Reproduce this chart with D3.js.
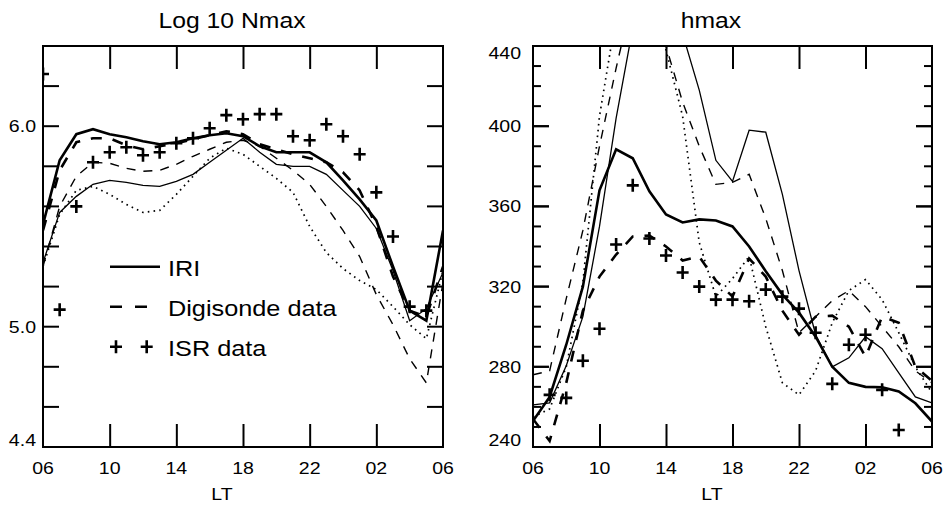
<!DOCTYPE html>
<html><head><meta charset="utf-8">
<script src="https://cdn.jsdelivr.net/npm/d3@7"></script>
<style>body{margin:0;background:#fff}svg{display:block}</style>
</head><body>
<svg id="chart" width="945" height="507"></svg>
<script>
// ---------- data ----------
const hours = [6,7,8,9,10,11,12,13,14,15,16,17,18,19,20,21,22,23,24,25,26,27,28,29,30];
const xTickValues = [6,10,14,18,22,26,30];
const xTickLabels = ["06","10","14","18","22","02","06"];

// Left panel: Log10 Nmax
const nmaxIRI      = [5.51,5.83,5.96,5.985,5.96,5.945,5.925,5.91,5.92,5.94,5.955,5.965,5.95,5.9,5.87,5.87,5.87,5.82,5.73,5.635,5.53,5.3,5.08,5.03,5.48];
const nmaxIRI2     = [5.32,5.57,5.65,5.71,5.73,5.72,5.705,5.70,5.725,5.76,5.82,5.88,5.94,5.87,5.81,5.80,5.80,5.76,5.68,5.6,5.49,5.28,5.03,5.09,5.27];
const nmaxDigi     = [5.48,5.78,5.92,5.94,5.94,5.905,5.885,5.9,5.915,5.935,5.955,5.975,5.96,5.91,5.885,5.86,5.84,5.82,5.77,5.68,5.5,5.25,5.08,5.05,5.3];
const nmaxDigi2    = [5.3,5.6,5.75,5.82,5.815,5.79,5.775,5.78,5.81,5.85,5.885,5.92,5.93,5.9,5.84,5.78,5.71,5.6,5.48,5.35,5.16,5.01,4.84,4.72,5.22];
const nmaxDotted   = [5.3,5.56,5.68,5.70,5.66,5.61,5.57,5.58,5.66,5.75,5.84,5.89,5.86,5.8,5.74,5.67,5.5,5.37,5.29,5.23,5.185,5.1,5.01,4.94,5.28];
const nmaxISR      = [6.26,5.085,5.60,5.82,5.87,5.895,5.855,5.87,5.915,5.94,5.99,6.055,6.035,6.06,6.06,5.95,5.93,6.01,5.95,5.86,5.67,5.45,5.10,5.08,null];
const nmaxYTicks   = [4.6,4.8,5.0,5.2,5.4,5.6,5.8,6.0,6.2];
const nmaxYLabels  = [4.4,5.0,6.0];
const nmaxYLabelText = ["4.4","5.0","6.0"];

// Right panel: hmax
const hmaxIRI      = [253,265,291,320,368,388.5,384,367.5,356,352,353.5,353,350,340,327.7,316,307,295,280,272,270,269.8,267.7,261.8,252.7];
const hmaxIRI2     = [261,262,280.5,305,350,404,449,470,465,446,418,383,372.5,398,397,366,328,296,280,284.5,295,289,277,265,262];
const hmaxDigi     = [254,243,272,308,325,336,345,345.5,340,333,335,323,315,334,325,308,296,305,305.5,300,285,305,302,280,273];
const hmaxDigi2    = [276,278,314,348,390,429,465,475,440,412,390,371,372,376,354,328,297,305,313,318,310,300,290,278,272];
const hmaxDotted   = [255,259,280,322,405,455,470,465,438,405,342,315,324,335,300,272,266,278,302,318,323.5,313.5,297,280,267];
const hmaxISR      = [null,266,264.5,283,299,341,370.5,344,335.5,327,320,313.5,313.5,312.7,318.5,315,309,297,271.5,291,296,268.5,248.5,null,null];
const hmaxYTicks   = [250,260,270,280,290,300,310,320,330,340,350,360,370,380,390,400,410,420,430];
const hmaxYLabels  = [240,280,320,360,400,440];

const legendLabels = ["IRI","Digisonde data","ISR data"];

// ---------- drawing ----------
const svg = d3.select("#chart");
const SX = 1.15; // horizontal font stretch of the original
const FONT = "'Liberation Sans', Arial, Helvetica, sans-serif";

function txt(g, x, y, s, size, anchor) {
  g.append("text")
    .attr("transform", `translate(${x},${y}) scale(${SX},1)`)
    .attr("text-anchor", anchor || "middle")
    .attr("font-family", FONT).attr("font-size", size).attr("fill", "#000")
    .text(s);
}

const styles = {
  thick:   {w: 2.6, dash: null},
  thin:    {w: 1.3, dash: null},
  dthick:  {w: 2.6, dash: "11,11"},
  dthin:   {w: 1.4, dash: "9,8"},
  dot:     {w: 1.7, dash: "1.6,4.2"}
};

function panel(cfg) {
  const x = d3.scaleLinear().domain([6,30]).range([cfg.x0, cfg.x1]);
  const y = d3.scaleLinear().domain(cfg.yDomain).range([447, 46]);
  const g = svg.append("g");
  const clipId = "clip" + cfg.id;
  svg.append("defs").append("clipPath").attr("id", clipId)
    .append("rect").attr("x", cfg.x0).attr("y", 46).attr("width", cfg.x1 - cfg.x0).attr("height", 401);

  const plot = g.append("g").attr("clip-path", `url(#${clipId})`);
  const line = d3.line().defined(d => d != null).x((d,i) => x(hours[i])).y(d => y(d));
  cfg.series.forEach(s => {
    const st = styles[s.style];
    plot.append("path").attr("d", line(s.values))
      .attr("fill","none").attr("stroke","#000").attr("stroke-width", st.w)
      .attr("stroke-dasharray", st.dash).attr("stroke-linejoin","miter");
  });
  cfg.isr.forEach((v,i) => {
    if (v == null) return;
    plot.append("path").attr("d","M-6,0H6M0,-6.5V6.5")
      .attr("transform", `translate(${x(hours[i])},${y(v)})`)
      .attr("stroke","#000").attr("stroke-width",2.6).attr("fill","none");
  });

  // frame
  g.append("rect").attr("x", cfg.x0).attr("y", 46).attr("width", cfg.x1 - cfg.x0).attr("height", 401)
    .attr("fill","none").attr("stroke","#000").attr("stroke-width",2);

  // x ticks (inside, bottom + top)
  const xt = [10,14,18,22,26];
  g.append("g").attr("transform","translate(0,447)")
    .call(d3.axisBottom(x).tickValues(xt).tickSize(-23).tickFormat(""))
    .call(a => a.select(".domain").remove())
    .selectAll("line").attr("stroke-width",2);
  g.append("g").attr("transform","translate(0,46)")
    .call(d3.axisTop(x).tickValues(xt).tickSize(-23).tickFormat(""))
    .call(a => a.select(".domain").remove())
    .selectAll("line").attr("stroke-width",2);

  // y ticks (inside, left + right)
  cfg.yTicks.forEach(v => {
    const len = cfg.tickLen(v);
    g.append("line").attr("x1",cfg.x0).attr("x2",cfg.x0+len).attr("y1",y(v)).attr("y2",y(v)).attr("stroke","#000").attr("stroke-width",2);
    g.append("line").attr("x1",cfg.x1).attr("x2",cfg.x1-len).attr("y1",y(v)).attr("y2",y(v)).attr("stroke","#000").attr("stroke-width",2);
  });

  // x tick labels
  xTickValues.forEach((v,i) => txt(g, x(v), 474, xTickLabels[i], 17, "middle"));
  // y tick labels
  cfg.yLabels.forEach((v,i) => {
    let yy = y(v) + 6;
    if (i === 0) yy -= 7;
    if (i === cfg.yLabels.length-1 && cfg.yLabels[cfg.yLabels.length-1] === cfg.yDomain[1]) yy += 7;
    txt(g, cfg.x0 - cfg.labelGap, yy, cfg.yLabelText[i], 17, "end");
  });
  // title + x label
  txt(g, cfg.titleX, 28, cfg.title, 21.5, "middle");
  txt(g, cfg.lbX, 500, "LT", 17, "middle");
  return {g, x, y};
}

const L = panel({
  id: "L", x0: 43, x1: 443, yDomain: [4.4, 6.4],
  series: [
    {values: nmaxDotted, style: "dot"},
    {values: nmaxDigi2, style: "dthin"},
    {values: nmaxIRI2, style: "thin"},
    {values: nmaxDigi, style: "dthick"},
    {values: nmaxIRI, style: "thick"}
  ],
  isr: nmaxISR,
  yTicks: nmaxYTicks, tickLen: () => 16,
  yLabels: nmaxYLabels, yLabelText: nmaxYLabelText, labelGap: 7,
  title: "Log 10 Nmax", titleX: 232, lbX: 222
});

const R = panel({
  id: "R", x0: 533, x1: 932, yDomain: [240, 440],
  series: [
    {values: hmaxDotted, style: "dot"},
    {values: hmaxDigi2, style: "dthin"},
    {values: hmaxIRI2, style: "thin"},
    {values: hmaxDigi, style: "dthick"},
    {values: hmaxIRI, style: "thick"}
  ],
  isr: hmaxISR,
  yTicks: hmaxYTicks.concat(hmaxYLabels.slice(1,-1)), tickLen: v => (v % 40 === 0 ? 16 : 8),
  yLabels: hmaxYLabels, yLabelText: hmaxYLabels.map(String), labelGap: 12,
  title: "hmax", titleX: 711, lbX: 712
});

// legend (left panel)
const lg = svg.append("g");
const rows = [266.7, 306.7, 346.7];
lg.append("line").attr("x1",110).attr("x2",160).attr("y1",rows[0]).attr("y2",rows[0]).attr("stroke","#000").attr("stroke-width",2.6);
lg.append("line").attr("x1",110).attr("x2",147).attr("y1",rows[1]).attr("y2",rows[1]).attr("stroke","#000").attr("stroke-width",2.6).attr("stroke-dasharray","12,13");
[116,146.7].forEach(cx => lg.append("path").attr("d","M-6,0H6M0,-6.5V6.5").attr("transform",`translate(${cx},${rows[2]})`).attr("stroke","#000").attr("stroke-width",2.6));
legendLabels.forEach((s,i) => txt(lg, 168, rows[i]+9, s, 22, "start"));
</script>
</body></html>
